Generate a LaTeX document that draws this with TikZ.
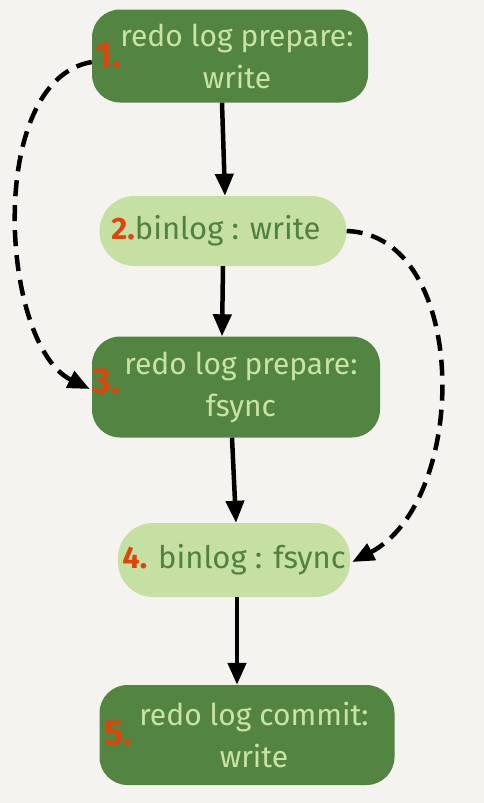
\documentclass[tikz,border=0pt]{standalone}
\usepackage{fontspec}
\setmainfont{Fira Sans}
\usetikzlibrary{arrows.meta}
\definecolor{bgc}{HTML}{F4F3EF}
\definecolor{darkg}{HTML}{548441}
\definecolor{lightg}{HTML}{C6E0A4}
\definecolor{lighttxt}{HTML}{C8E4A2}
\definecolor{darktxt}{HTML}{52803F}
\definecolor{numc}{HTML}{D9470F}
\begin{document}
\begin{tikzpicture}[x=1pt,y=-1pt,
  darkbox/.style={fill=darkg, rounded corners=28pt, text=lighttxt, align=center,
    font=\fontsize{30}{42}\selectfont, inner sep=0pt},
  lightbox/.style={fill=lightg, rounded corners=35pt, text=darktxt,
    font=\fontsize{31}{34}\selectfont, inner sep=0pt},
  numlab/.style={text=numc, font=\fontsize{36}{38}\selectfont\bfseries, inner sep=0pt},
  flow/.style={line width=4.5pt, -{Triangle[length=22pt,width=18pt]}},
  dflow/.style={line width=4.5pt, dash pattern=on 16pt off 9pt, -{Triangle[length=22pt,width=18pt]}}
]
\fill[bgc] (0,0) rectangle (484,803);
\useasboundingbox (0,0) rectangle (484,803);

\node[darkbox, minimum width=276pt, minimum height=93pt] (b1) at (230,56) {\hspace*{14pt}redo log prepare:\\\hspace*{14pt}write};
\node[numlab] (n1) at (108,56) {1.};

\node[lightbox, minimum width=247pt, minimum height=70pt] (b2) at (223,231) {\hspace*{-14pt}\textcolor{numc}{\bfseries 2.}binlog : write};

\node[darkbox, minimum width=288pt, minimum height=101pt] (b3) at (236,387) {\hspace*{10pt}redo log prepare:\\\hspace*{10pt}fsync};
\node[numlab] (n3) at (106,381) {3.};

\node[lightbox, minimum width=232pt, minimum height=74pt] (b4) at (234,560) {\textcolor{numc}{\bfseries 4.} binlog : fsync};

\node[darkbox, minimum width=295pt, minimum height=100pt] (b5) at (247,735) {\hspace*{14pt}redo log commit:\\\hspace*{14pt}write};
\node[numlab] (n5) at (118,734) {5.};

\draw[flow] ([xshift=-8pt]b1.south) -- ([xshift=2pt]b2.north);
\draw[flow] (b2.south) -- ([xshift=-14pt]b3.north);
\draw[flow] ([xshift=-4pt]b3.south) -- ([xshift=2pt]b4.north);
\draw[flow] ([xshift=3pt]b4.south) -- ([xshift=-10pt]b5.north);

\draw[dflow] ([yshift=-6pt]b1.west) .. controls (-15,80) and (0,345) .. ([yshift=-2pt,xshift=-2pt]b3.west);
\draw[dflow] (b2.east) .. controls (470,235) and (470,500) .. ([yshift=-2pt,xshift=2pt]b4.east);
\end{tikzpicture}
\end{document}
